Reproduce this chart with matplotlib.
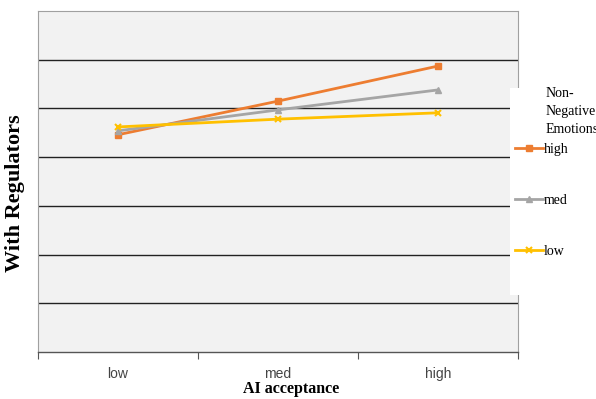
import matplotlib
matplotlib.use("Agg")
import matplotlib.pyplot as plt
from matplotlib.patches import Rectangle
from matplotlib.font_manager import fontManager

# Data (no y tick labels, so values are in grid bands)
categories = ["low", "med", "high"]
series_names = ["high", "med", "low"]
high_vals = [4.46, 5.15, 5.87]
med_vals = [4.54, 4.97, 5.38]
low_vals = [4.62, 4.78, 4.91]

ORANGE = "#ED7D31"
GRAY = "#A5A5A5"
YELLOW = "#FFC000"

installed = {f.name for f in fontManager.ttflist}
NARROW = "Liberation Sans Narrow" if "Liberation Sans Narrow" in installed else "Liberation Sans"
SERIF = "Liberation Serif"

W, H = 596, 399
fig = plt.figure(figsize=(W / 100, H / 100), dpi=100)
ax = fig.add_axes([38 / W, 47 / H, 480 / W, 341 / H])
ax.set_facecolor("#f2f2f2")

x = list(range(len(categories)))
ax.plot(x, high_vals, color=ORANGE, lw=2, marker="s", ms=5, label=series_names[0], zorder=3)
ax.plot(x, med_vals, color=GRAY, lw=2, marker="^", ms=5, label=series_names[1], zorder=3)
ax.plot(x, low_vals, color=YELLOW, lw=2, marker="x", ms=5, mew=1.5, label=series_names[2], zorder=3)

ax.set_xlim(-0.5, 2.5)
ax.set_ylim(0, 7)
for y in range(1, 7):
    ax.axhline(y, color="#222222", lw=1, zorder=1)
ax.set_yticks([])

# category boundaries carry the ticks, labels sit between them
ax.set_xticks([-0.5, 0.5, 1.5, 2.5])
ax.set_xticklabels([])
ax.set_xticks(x, minor=True)
ax.set_xticklabels(categories, minor=True, fontsize=10, family=NARROW, color="#444444")
ax.tick_params(axis="x", which="major", length=5, color="#555555", direction="out")
ax.tick_params(axis="x", which="minor", length=0, pad=11)

for side in ["left", "top", "right"]:
    ax.spines[side].set_color("#a0a0a0")
    ax.spines[side].set_linewidth(0.8)
ax.spines["bottom"].set_color("#555555")
ax.spines["bottom"].set_linewidth(1)

ax.set_xlabel("AI acceptance", family=SERIF, fontweight="bold", fontsize=11.5)
ax.xaxis.set_label_coords((291 - 38) / 480, -(389 - 352) / 341)
ax.xaxis.label.set_va("center")
ax.set_ylabel("With Regulators", family=SERIF, fontweight="bold", fontsize=16)
ax.yaxis.set_label_coords(-(38 - 15) / 480, (352 - 193) / 341)
ax.yaxis.label.set_va("center")

# legend panel: white box overlapping the plot's right edge
fig.patches.append(Rectangle((510 / W, 1 - 295 / H), 86 / W, 207 / H,
                             transform=fig.transFigure, facecolor="white",
                             edgecolor="none", zorder=5))
fig.text(546 / W, 1 - 87 / H, "Non-\nNegative\nEmotions", family=SERIF, fontsize=10,
         va="top", ha="left", linespacing=1.5, zorder=6)
leg = fig.legend(
    loc="upper left",
    bbox_to_anchor=(515 / W, 1 - 143 / H),
    frameon=False,
    prop={"family": SERIF, "size": 10},
    labelspacing=2.73,
    handlelength=2.0,
    handletextpad=0.1,
    borderpad=0,
    borderaxespad=0,
)
leg.set_zorder(7)

fig.savefig("out.png", dpi=100)
